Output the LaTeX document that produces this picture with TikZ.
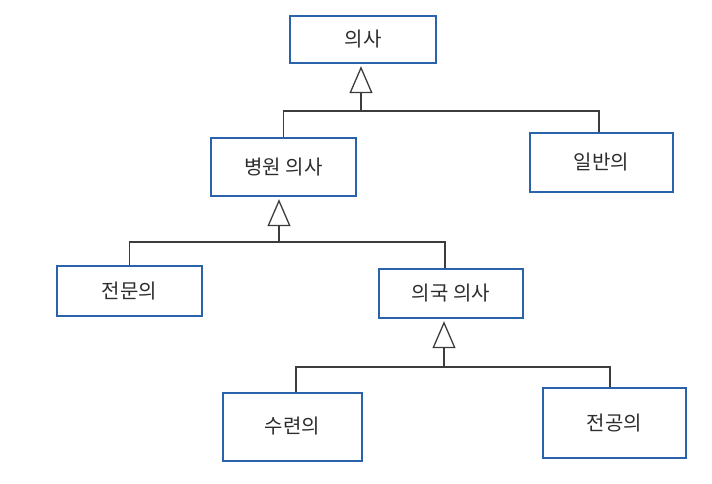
\documentclass[tikz,border=0pt]{standalone}
\usepackage{fontspec}
\newfontfamily\krfont{Noto Sans CJK KR}
\usetikzlibrary{arrows.meta}
\definecolor{boxblue}{RGB}{42,98,172}
\definecolor{linegray}{RGB}{60,60,60}
\definecolor{textgray}{RGB}{45,45,45}
\tikzset{
  classbox/.style={draw=boxblue, line width=2.4pt, fill=white, inner sep=0pt,
    text=textgray, font=\krfont\fontsize{20}{22}\selectfont},
  link/.style={draw=linegray, line width=1.3pt},
  inherit/.style={link, -{Triangle[open, length=27pt, width=23pt, line width=1.3pt]}, shorten >=2pt}
}
\begin{document}
\begin{tikzpicture}[x=1pt, y=-1pt]
  \useasboundingbox[fill=white] (0,0) rectangle (712,484);

  % class boxes
  \node[classbox, minimum width=146pt, minimum height=47pt] (doc)   at (363,39.5)  {의사};
  \node[classbox, minimum width=145pt, minimum height=58pt] (hosp)  at (283.5,167) {병원 의사};
  \node[classbox, minimum width=143pt, minimum height=59pt] (gen)   at (601.5,162.5) {일반의};
  \node[classbox, minimum width=145pt, minimum height=50pt] (spec)  at (129.5,291) {전문의};
  \node[classbox, minimum width=144pt, minimum height=49pt] (dept)  at (451,293.5) {의국 의사};
  \node[classbox, minimum width=139pt, minimum height=68pt] (train) at (292.5,427) {\raisebox{4pt}{수련의}};
  \node[classbox, minimum width=143pt, minimum height=70pt] (res)   at (614.5,423) {전공의};

  % junction points of the inheritance trees
  \coordinate (j1) at (361,111);
  \coordinate (j2) at (279,242);
  \coordinate (j3) at (444,367);
  \coordinate (d1) at ([xshift=0pt]hosp.north);
  \coordinate (d2) at ([xshift=-2.5pt]gen.north);
  \coordinate (d3) at ([xshift=0pt]spec.north);
  \coordinate (d4) at ([xshift=-6pt]dept.north);
  \coordinate (d5) at ([xshift=3.5pt]train.north);
  \coordinate (d6) at ([xshift=-4.5pt]res.north);

  % generalisation: 의사
  \draw[link] (d1) |- (j1) -| (d2);
  \draw[inherit] (j1) -- (j1 |- doc.south);

  % generalisation: 병원 의사
  \draw[link] (d3) |- (j2) -| (d4);
  \draw[inherit] (j2) -- (j2 |- hosp.south);

  % generalisation: 의국 의사
  \draw[link] (d5) |- (j3) -| (d6);
  \draw[inherit] (j3) -- (j3 |- dept.south);
\end{tikzpicture}
\end{document}
